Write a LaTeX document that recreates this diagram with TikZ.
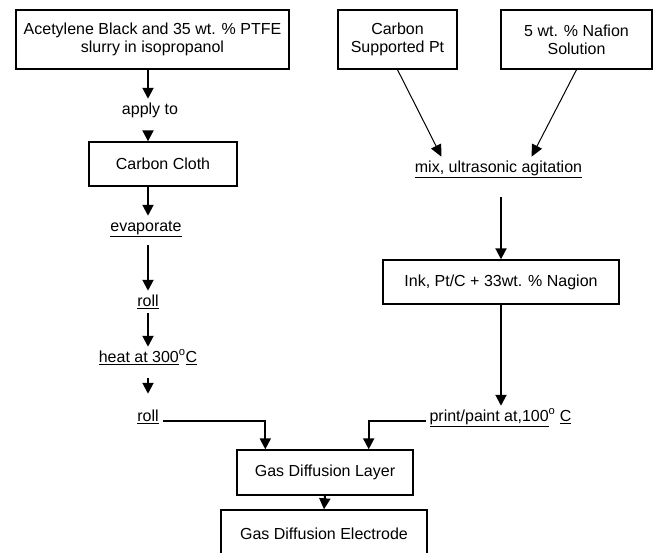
\documentclass[tikz,border=0pt]{standalone}
\usepackage{fontspec}
\setmainfont{Liberation Sans}
\usepackage{tikz}
\usetikzlibrary{arrows.meta}

\begin{document}
\begin{tikzpicture}[x=1pt, y=-1pt,
  every node/.style={font=\fontsize{16}{18}\selectfont},
  stepbox/.style={draw, line width=1.4pt, inner sep=0pt, align=center},
  lbl/.style={inner sep=0pt, text height=11.5pt, text depth=3pt, outer ysep=4pt, outer xsep=4pt},
  arr/.style={line width=2pt, -{Triangle[width=11pt,length=11pt]}},
  thinarr/.style={line width=1pt, -{Triangle[width=11pt,length=12pt]}}]
\clip (0,0) rectangle (653,552);
\node[stepbox, minimum width=273pt, minimum height=59pt] (slurry) at (152.5,39.5) {Acetylene Black and 35 wt. \% PTFE\\ slurry in isopropanol};
\node[lbl] (apply) at (150,110) {apply to};
\node[stepbox, minimum width=148pt, minimum height=44pt] (cloth) at (163,164) {Carbon Cloth};
\node[lbl] (evap) at (146,227) {\underline{evaporate}};
\node[lbl] (rollA) at (148,302) {\underline{roll}};
\node[lbl] (heat) at (148,358) {\underline{heat at 300}\textsuperscript{o}\underline{C}};
\node[lbl] (rollB) at (148,417) {\underline{roll}};
\node[stepbox, minimum width=119pt, minimum height=59pt] (ptc) at (397.5,39.5) {Carbon\\ Supported Pt};
\node[stepbox, minimum width=151pt, minimum height=59pt] (nafion) at (576.5,39.5) {5 wt. \% Nafion\\ Solution};
\node[lbl] (mix) at (498.5,168) {\underline{mix, ultrasonic agitation}};
\node[stepbox, minimum width=236pt, minimum height=44pt] (ink) at (501,282) {Ink, Pt/C + 33wt. \% Nagion};
\node[lbl] (print) at (500.5,417) {\underline{print/paint at,100}\textsuperscript{o} \underline{C}};
\node[stepbox, minimum width=176pt, minimum height=45pt] (gdl) at (325,472.5) {Gas Diffusion Layer};
\node[stepbox, minimum width=206pt, minimum height=48pt] (gde) at (324,534) {Gas Diffusion Electrode};
\draw[arr] (slurry.south -| rollA) -- (apply.north -| rollA);
\draw[arr, shorten <=10pt] (apply.south -| rollA) -- (cloth.north -| rollA);
\draw[arr] (cloth.south -| rollA) -- (evap.north -| rollA);
\draw[arr, shorten <=7pt] (evap.south -| rollA) -- (rollA.north);
\draw[arr] (rollA.south) -- (heat.north);
\draw[arr, shorten <=9pt, shorten >=12pt] (heat.south) -- (rollB.north);
\draw[arr] (rollB.base east) -| ([xshift=29pt]gdl.north west);
\draw[arr] (print.base west) -| ([xshift=-45pt]gdl.north east);
\draw[arr] (gdl.south) -- (gde.north);
\draw[thinarr] (ptc.south) -- ([xshift=-57pt]mix.north);
\draw[thinarr] (nafion.south) -- ([xshift=33pt]mix.north);
\draw[arr, shorten <=18pt] (mix.south -| ink) -- (ink.north);
\draw[arr] (ink.south) -- (ink.south |- print.north);
\end{tikzpicture}
\end{document}
